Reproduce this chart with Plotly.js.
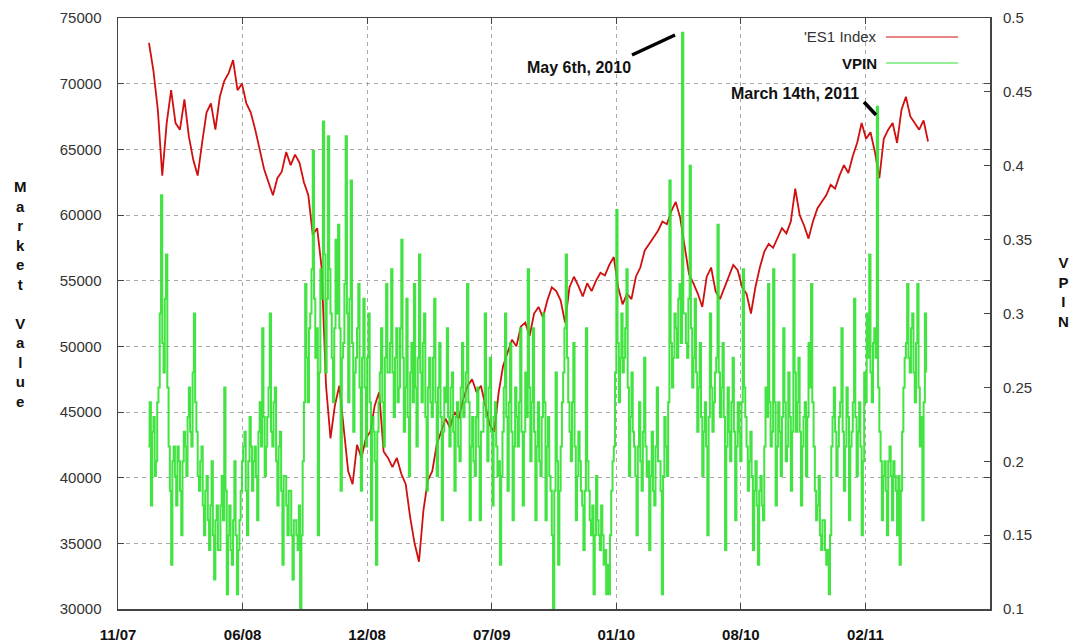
<!DOCTYPE html>
<html>
<head>
<meta charset="utf-8">
<script src="https://cdn.plot.ly/plotly-3.0.1.min.js"></script>
<style>html,body{margin:0;padding:0;background:#fff;}#chart{width:1071px;height:643px;}</style>
</head>
<body>
<div id="chart"></div>
<script>
// ---- axis / date settings ----
var startDate = Date.UTC(2007, 10, 25);
var tickStepDays = 197;
var tickLabels = ['11/07', '06/08', '12/08', '07/09', '01/10', '08/10', '02/11'];
var leftTicks = [30000, 35000, 40000, 45000, 50000, 55000, 60000, 65000, 70000, 75000];
var rightTicks = [0.1, 0.15, 0.2, 0.25, 0.3, 0.35, 0.4, 0.45, 0.5];
var rightTickText = ['0.1', '0.15', '0.2', '0.25', '0.3', '0.35', '0.4', '0.45', '0.5'];

// ---- ES1 Index (weekly) ----
var es1StartDay = 49;
var es1StepDays = 7;
var es1Values = [
  73100, 71000, 68000, 63000, 67000, 69500, 67000, 66500, 68800, 66000,
  64200, 63000, 65500, 67800, 68500, 66500, 69000, 70200, 70800, 71800,
  69500, 70000, 68500, 67800, 66500, 65000, 63500, 62500, 61500, 62800,
  63300, 64800, 63800, 64600, 64000, 62500, 61500, 58500, 59000, 56000,
  47000, 43000, 45500, 47000, 44000, 40500, 39500, 42500, 41500, 43000,
  43500, 45500, 46500, 42000, 41500, 40800, 41500, 40300, 39500, 37000,
  35000, 33600, 37500, 39800, 40500, 42500, 43500, 44500, 43800, 45000,
  44500, 46000, 47000, 47500, 46500, 47000, 45500, 44000, 43500, 46500,
  48500, 49500, 50500, 50000, 51500, 51800, 50800, 52500, 53000, 52200,
  53500, 54500, 54200, 53500, 51800, 54500, 55300, 54600, 53800, 54800,
  54200, 55000, 55600, 55400, 56200, 56800, 54500, 53200, 54000, 53600,
  55300, 56000, 57300, 57800, 58300, 58800, 59500, 59300, 60300, 61000,
  59800, 57500, 55500, 54800, 54000, 53000, 55300, 56000, 54200, 53600,
  54500, 55300, 56200, 55800, 54500, 54000, 52500, 54500, 56000, 57200,
  57800, 57500, 58300, 59000, 58600, 59500, 62000, 60000, 59200, 58200,
  59500, 60500, 61000, 61500, 62300, 62000, 63000, 63800, 63200, 64500,
  65500, 67000, 65800, 66300, 64800, 62800, 65800, 66500, 67000, 65500,
  68000, 69000, 67500, 67000, 66500, 67200, 65600
];

// ---- VPIN (every 2 days) ----
var vpinStartDay = 48;
var vpinStepDays = 2;
var vpinValues = [
  0.21,0.24, 0.17,0.22, 0.23,0.19, 0.20,0.24, 0.25,0.30, 0.38,0.28, 0.26,0.31, 0.34,0.25, 0.21,0.18, 0.13,0.20,
  0.21,0.19, 0.17,0.21, 0.20,0.18, 0.15,0.20, 0.22,0.21, 0.19,0.23, 0.25,0.22, 0.21,0.26, 0.30,0.24, 0.22,0.19,
  0.18,0.20, 0.21,0.17, 0.15,0.18, 0.19,0.16, 0.14,0.17, 0.20,0.15, 0.12,0.16, 0.17,0.14, 0.14,0.17, 0.19,0.16,
  0.25,0.18, 0.11,0.15, 0.17,0.14, 0.13,0.16, 0.20,0.15, 0.11,0.14, 0.16,0.18, 0.20,0.21, 0.22,0.18, 0.15,0.20,
  0.23,0.21, 0.18,0.20, 0.21,0.19, 0.16,0.22, 0.24,0.21, 0.29,0.23, 0.19,0.21, 0.23,0.25, 0.30,0.22, 0.21,0.24,
  0.25,0.20, 0.17,0.21, 0.22,0.18, 0.13,0.19, 0.19,0.17, 0.15,0.18, 0.18,0.15, 0.12,0.16, 0.16,0.15, 0.14,0.17,
  0.10,0.15, 0.20,0.24, 0.32,0.27, 0.24,0.29, 0.30,0.33, 0.41,0.31, 0.27,0.29, 0.15,0.26, 0.33,0.31, 0.43,0.34,
  0.26,0.31, 0.42,0.33, 0.30,0.27, 0.24,0.29, 0.35,0.30,
  0.36,0.29, 0.18,0.27, 0.28,0.32, 0.42,0.30, 0.24,0.31, 0.39,0.28, 0.22,0.26, 0.27,0.29, 0.32,0.25, 0.18,0.27,
  0.31,0.25, 0.21,0.27, 0.30,0.24, 0.16,0.23, 0.22,0.20, 0.13,0.22, 0.24,0.26, 0.29,0.24, 0.21,0.27, 0.32,0.26,
  0.26,0.28, 0.33,0.26, 0.23,0.27, 0.29,0.24, 0.25,0.29, 0.35,0.27, 0.22,0.25, 0.31,0.23, 0.19,0.26, 0.28,0.24,
  0.32,0.25, 0.21,0.27, 0.34,0.26, 0.24,0.28, 0.30,0.23, 0.18,0.25, 0.27,0.24, 0.23,0.27, 0.31,0.24, 0.19,0.25,
  0.28,0.23, 0.16,0.22, 0.25,0.24, 0.29,0.23, 0.21,0.25, 0.26,0.22, 0.18,0.23, 0.24,0.21, 0.20,0.25, 0.28,0.23,
  0.24,0.26, 0.32,0.24, 0.16,0.21, 0.23,0.20, 0.19,0.23, 0.25,0.21, 0.16,0.22, 0.22,0.24, 0.30,0.23, 0.20,0.25,
  0.27,0.22, 0.17,0.23, 0.24,0.21, 0.19,0.20, 0.13,0.19, 0.22,0.25, 0.30,0.23, 0.18,0.24, 0.28,0.22, 0.16,0.21,
  0.25,0.23, 0.21,0.24, 0.29,0.22, 0.17,0.22, 0.26,0.23, 0.33,0.25, 0.20,0.24, 0.29,0.22, 0.16,0.21, 0.24,0.20,
  0.19,0.23, 0.30,0.24, 0.16,0.21, 0.23,0.19, 0.18,0.15, 0.10,0.18, 0.26,0.20,
  0.13,0.18, 0.21,0.24, 0.26,0.29, 0.34,0.27, 0.24,0.22, 0.20,0.24, 0.28,0.21, 0.16,0.19, 0.22,0.20, 0.18,0.17,
  0.14,0.18, 0.29,0.20, 0.18,0.16, 0.15,0.17, 0.11,0.15, 0.19,0.16, 0.15,0.14, 0.17,0.15, 0.13,0.14, 0.11,0.13,
  0.11,0.15, 0.18,0.20, 0.21,0.26, 0.37,0.28, 0.24,0.27, 0.30,0.26, 0.27,0.29, 0.33,0.25, 0.19,0.23, 0.26,0.22,
  0.21,0.19, 0.15,0.21, 0.24,0.20, 0.18,0.22, 0.27,0.21, 0.19,0.20, 0.14,0.19, 0.22,0.18, 0.17,0.21, 0.25,0.20,
  0.20,0.18, 0.11,0.19, 0.23,0.21, 0.19,0.24, 0.39,0.28, 0.25,0.27, 0.30,0.29, 0.27,0.31, 0.32,0.28, 0.49,0.30,
  0.30,0.28, 0.27,0.31, 0.40,0.29, 0.25,0.27, 0.31,0.26, 0.22,0.25, 0.28,0.23, 0.19,0.22, 0.24,0.21, 0.15,0.23,
  0.30,0.25, 0.22,0.24, 0.26,0.27, 0.36,0.26, 0.23,0.25, 0.28,0.23, 0.14,0.21, 0.25,0.22, 0.20,0.24, 0.27,0.22,
  0.16,0.21, 0.24,0.22, 0.20,0.24, 0.33,0.25, 0.23,0.21, 0.18,0.20, 0.22,0.19, 0.14,0.18, 0.20,0.17, 0.13,0.18,
  0.19,0.17, 0.16,0.21, 0.25,0.23, 0.32,0.24, 0.21,0.22,
  0.33,0.24, 0.17,0.21, 0.24,0.22, 0.19,0.23, 0.29,0.24, 0.20,0.21, 0.26,0.23, 0.18,0.22, 0.34,0.26, 0.22,0.24,
  0.27,0.22, 0.17,0.21, 0.23,0.24, 0.19,0.23, 0.28,0.25, 0.32,0.24, 0.21,0.18, 0.16,0.17, 0.19,0.15, 0.14,0.16,
  0.16,0.14, 0.13,0.14, 0.11,0.15, 0.21,0.23, 0.25,0.22, 0.19,0.21, 0.23,0.24, 0.29,0.22, 0.18,0.21, 0.25,0.23,
  0.16,0.21, 0.22,0.24, 0.31,0.23, 0.19,0.22, 0.24,0.21, 0.15,0.20, 0.26,0.24, 0.30,0.27, 0.34,0.26, 0.24,0.28,
  0.29,0.27, 0.44,0.25, 0.22,0.20, 0.16,0.19, 0.20,0.18, 0.15,0.20, 0.21,0.19, 0.16,0.20, 0.19,0.18, 0.15,0.19,
  0.13,0.18, 0.22,0.25, 0.27,0.28, 0.32,0.27, 0.26,0.29, 0.30,0.26, 0.24,0.28, 0.32,0.25, 0.21,0.23, 0.16,0.24, 0.30,0.26
];

function dateAt(days) {
  return new Date(startDate + days * 86400000).toISOString().slice(0, 10);
}
var es1Dates = es1Values.map(function (_, i) { return dateAt(es1StartDay + i * es1StepDays); });
var vpinDates = vpinValues.map(function (_, i) { return dateAt(vpinStartDay + i * vpinStepDays); });
var tickDates = tickLabels.map(function (_, k) { return dateAt(k * tickStepDays); });

var traces = [
  {
    x: es1Dates, y: es1Values, type: 'scatter', mode: 'lines', name: "'ES1 Index",
    line: {color: '#d10f0f', width: 1.8}, yaxis: 'y', hoverinfo: 'skip'
  },
  {
    x: vpinDates, y: vpinValues, type: 'scatter', mode: 'lines', name: 'VPIN',
    line: {color: '#2ee02e', width: 2, shape: 'hv'}, opacity: 0.9, yaxis: 'y2', hoverinfo: 'skip'
  }
];

var FONT = 'Liberation Sans, Arial, sans-serif';
function px(xp) { return (xp - 118) / 872; }
function py(yp) { return (609 - yp) / 591; }

var layout = {
  width: 1071, height: 643,
  margin: {l: 118, r: 81, t: 18, b: 34},
  paper_bgcolor: '#ffffff', plot_bgcolor: '#ffffff',
  showlegend: false,
  font: {family: FONT, color: '#222'},
  xaxis: {
    type: 'date', range: [dateAt(0), dateAt(7 * tickStepDays)],
    tickmode: 'array', tickvals: tickDates, ticktext: tickLabels,
    tickfont: {family: FONT, size: 15, color: '#111', weight: 'bold'},
    showgrid: true, gridcolor: '#a8a8a8', griddash: '4px,4px', gridwidth: 1,
    ticks: 'inside', ticklen: 6, tickcolor: '#444',
    showline: true, linecolor: '#444', linewidth: 1.5, mirror: 'ticks',
    zeroline: false, ticklabelstandoff: 11
  },
  yaxis: {
    range: [30000, 75000], tickmode: 'array', tickvals: leftTicks,
    ticktext: leftTicks.map(String),
    tickfont: {family: FONT, size: 15, color: '#333'},
    showgrid: true, gridcolor: '#a8a8a8', griddash: '4px,4px', gridwidth: 1,
    ticks: 'inside', ticklen: 6, tickcolor: '#444',
    showline: true, linecolor: '#444', linewidth: 1.5, mirror: 'ticks',
    zeroline: false, ticklabelstandoff: 12
  },
  yaxis2: {
    overlaying: 'y', side: 'right', range: [0.1, 0.5],
    tickmode: 'array', tickvals: rightTicks, ticktext: rightTickText,
    tickfont: {family: FONT, size: 15, color: '#333'},
    showgrid: false, zeroline: false,
    ticks: 'inside', ticklen: 6, tickcolor: '#444',
    showline: false, ticklabelstandoff: 12
  },
  shapes: [
    {type: 'line', xref: 'paper', yref: 'paper', x0: px(886), x1: px(958), y0: py(37), y1: py(37),
     line: {color: '#d10f0f', width: 1.2}},
    {type: 'line', xref: 'paper', yref: 'paper', x0: px(886), x1: px(958), y0: py(63), y1: py(63),
     line: {color: '#2ee02e', width: 1.2}},
    {type: 'line', xref: 'paper', yref: 'paper', x0: px(632), y0: py(55), x1: px(675), y1: py(35),
     line: {color: '#000', width: 3.5}},
    {type: 'line', xref: 'paper', yref: 'paper', x0: px(864), y0: py(102), x1: px(876), y1: py(115),
     line: {color: '#000', width: 3.5}}
  ],
  annotations: [
    {xref: 'paper', yref: 'paper', x: px(879), y: py(37), xanchor: 'right', yanchor: 'middle',
     text: "'ES1 Index", showarrow: false, font: {family: FONT, size: 15, color: '#333'}},
    {xref: 'paper', yref: 'paper', x: px(879), y: py(63), xanchor: 'right', yanchor: 'middle',
     text: '<b>VPIN</b>', showarrow: false, font: {family: FONT, size: 15, color: '#111'}},
    {xref: 'paper', yref: 'paper', x: px(633), y: py(67), xanchor: 'right', yanchor: 'middle',
     text: '<b>May 6th, 2010</b>', showarrow: false, font: {family: FONT, size: 16, color: '#111'}},
    {xref: 'paper', yref: 'paper', x: px(861), y: py(93), xanchor: 'right', yanchor: 'middle',
     text: '<b>March 14th, 2011</b>', showarrow: false, font: {family: FONT, size: 16, color: '#111'}},
    {xref: 'paper', yref: 'paper', x: px(20), y: py(294), xanchor: 'center', yanchor: 'middle',
     text: '<b>M<br>a<br>r<br>k<br>e<br>t<br> <br>V<br>a<br>l<br>u<br>e</b>', showarrow: false,
     font: {family: FONT, size: 15, color: '#111'}},
    {xref: 'paper', yref: 'paper', x: px(1063), y: py(292), xanchor: 'center', yanchor: 'middle',
     text: '<b>V<br>P<br>I<br>N</b>', showarrow: false,
     font: {family: FONT, size: 15, color: '#111'}}
  ]
};

Plotly.newPlot('chart', traces, layout, {staticPlot: true, displayModeBar: false});
</script>
</body>
</html>
